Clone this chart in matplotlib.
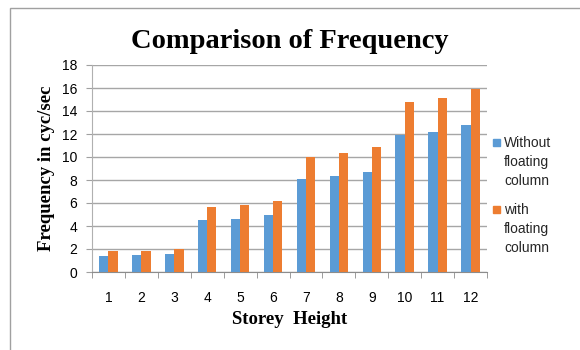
import numpy as np
import matplotlib.pyplot as plt
from matplotlib.patches import Rectangle

storeys = [1, 2, 3, 4, 5, 6, 7, 8, 9, 10, 11, 12]
without_fc = [1.42, 1.48, 1.6, 4.55, 4.64, 4.99, 8.09, 8.32, 8.7, 11.94, 12.2, 12.78]
with_fc = [1.83, 1.86, 1.97, 5.68, 5.8, 6.14, 10.03, 10.32, 10.84, 14.78, 15.13, 15.88]
series_names = ["Without\nfloating\ncolumn", "with\nfloating\ncolumn"]

blue = "#5B9BD5"
orange = "#ED7D31"
serif = ["Liberation Serif", "DejaVu Serif"]
sans = ["Liberation Sans", "DejaVu Sans"]

W, H = 580, 350
fig = plt.figure(figsize=(5.8, 3.5), dpi=100)
fig.patches.append(Rectangle((10 / W, -0.05), 1.0, (H - 8) / H + 0.05,
                             transform=fig.transFigure, fill=False,
                             edgecolor="#a0a0a0", linewidth=1.0))

ax = fig.add_axes([92 / W, 78 / H, 395 / W, 207 / H])
x = np.arange(len(storeys))
w = 0.28
ax.bar(x - w / 2, without_fc, w, color=blue, zorder=3)
ax.bar(x + w / 2, with_fc, w, color=orange, zorder=3)

ax.set_xlim(-0.5, len(storeys) - 0.5)
ax.set_ylim(0, 18)
ax.set_yticks(range(0, 19, 2))
ax.set_xticks(x)
ax.set_xticklabels(storeys, fontfamily=sans, fontsize=10)
for lab in ax.get_yticklabels():
    lab.set_fontfamily(sans)
    lab.set_fontsize(10)
ax.set_xticks(np.arange(-0.5, len(storeys), 1), minor=True)
ax.tick_params(axis="x", which="major", length=0, pad=14)
ax.tick_params(axis="x", which="minor", length=4, color="#8c8c8c")
ax.tick_params(axis="y", length=4.5, color="#a0a0a0", pad=6)
ax.grid(axis="y", color="#a6a6a6", linewidth=1.0, zorder=0)
for s in ["top", "right"]:
    ax.spines[s].set_visible(False)
ax.spines["left"].set_color("#b0b0b0")
ax.spines["bottom"].set_color("#8c8c8c")

ax.set_title("Comparison of Frequency", fontfamily=serif, fontweight="bold",
             fontsize=20.5, pad=12)
ax.set_xlabel("Storey  Height", fontfamily=serif, fontweight="bold", fontsize=13.5, labelpad=4)
ax.set_ylabel("Frequency in cyc/sec", fontfamily=serif, fontweight="bold", fontsize=13.5, labelpad=5)

# legend drawn by hand so the wrapped labels get wider line spacing
for color, name, ytop in [(blue, series_names[0], 136), (orange, series_names[1], 203)]:
    fig.patches.append(Rectangle((493 / W, 1 - (ytop + 10) / H), 7 / W, 7 / H,
                                 transform=fig.transFigure, color=color))
    fig.text(504 / W, 1 - ytop / H, name, fontfamily=sans, fontsize=10,
             color="#262626", va="top", ha="left", linespacing=1.45)

plt.savefig("out.png", dpi=100)
